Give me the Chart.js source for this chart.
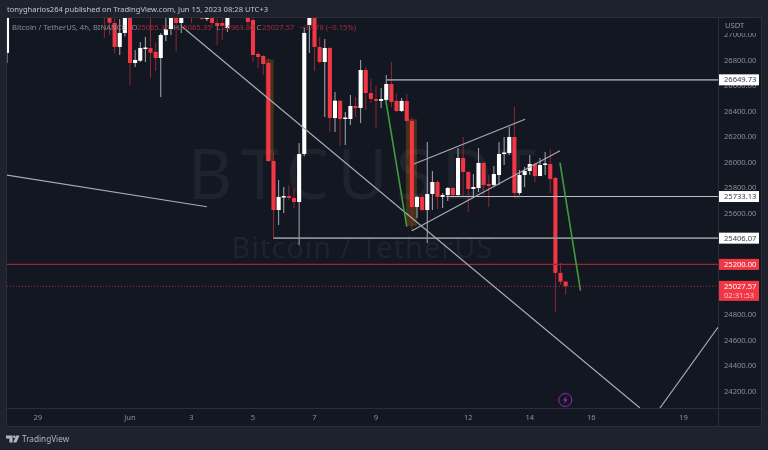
<!DOCTYPE html>
<html>
<head>
<meta charset="utf-8">
<title>BTCUSDT 4h</title>
<script src="https://cdn.jsdelivr.net/npm/chart.js@4/dist/chart.umd.min.js"></script>
<style>
  html, body { margin: 0; padding: 0; background: #1e222d; }
  canvas { display: block; }
</style>
</head>
<body>
<canvas id="chart" width="768" height="450"></canvas>
<script>
// candles, one row per 10 bars, null = bar sits above the visible range
const openPrices = [
  26861, null, null, null, null, null, null, null, null, null,
  null, null, null, null, null, null, null, null, null, 27200,
  27170, 27096, 26908, 27018, 27150, 26782, 26800, 26892, 26900, 26869,
  26821, 27002, 27049, 27160, 27096, null, 27210, null, 27150, 27128,
  27150, 27096, 27096, 27057, null, null, null, 27150, 27120, 26853,
  26837, 26782, 26012, 25627, 25725, 25737, 25722, 25690, 26067, 27081,
  27170, 26908, 26790, 26900, 26350, 26486, 26342, 26342, 26444, 26429,
  26727, 26546, 26499, 26484, 26492, 26617, 26484, 26405, 26484, 26327,
  25651, 25730, 25627, 25753, 25847, 25730, 25745, 25800, 25745, 26036,
  25926, 25792, 25800, 25997, 25832, 25824, 25902, 26067, 26075, 26201,
  25761, 25902, 25934, 25989, 25894, 25981, 25989, 25879, 25133, 25065.35
];
const highPrices = [
  27238, null, null, null, null, null, null, null, null, null,
  null, null, null, null, null, null, null, null, null, 27230,
  27230, 27180, 27128, 27190, 27190, 26884, 26947, 26986, 27140, 26947,
  27018, 27150, 27200, 27200, 27200, null, 27230, null, 27180, 27170,
  27190, 27130, 27150, 27190, null, null, null, 27190, 27170, 26869,
  26845, 26821, 26075, 25863, 25808, 25824, 25800, 26154, 27060, 27210,
  27220, 26986, 26971, 26910, 26554, 26490, 26397, 26531, 26515, 26806,
  26750, 26656, 26601, 26586, 26688, 26790, 26539, 26507, 26539, 26358,
  25737, 25745, 26162, 25934, 25863, 25761, 25808, 25808, 26114, 26201,
  25934, 25910, 26114, 26005, 25902, 25973, 26162, 26201, 26279, 26436,
  25942, 25965, 26059, 26005, 26036, 26083, 26107, 25890, 25211, 25065.35
];
const lowPrices = [
  26782, null, null, null, null, null, null, null, null, null,
  null, null, null, null, null, null, null, null, null, 26979,
  27002, 26861, 26845, 26990, 26609, 26751, 26790, 26790, 26664, 26719,
  26515, 26955, 27002, 26869, 27018, null, 27096, null, 27120, 27112,
  27057, 26924, 26963, 27026, null, null, null, 27081, 26790, 26743,
  26688, 26004, 25400, 25510, 25604, 25706, 25643, 25352, 26050, 26861,
  26719, 26780, 26358, 26240, 26240, 26130, 26138, 26295, 26358, 26311,
  26413, 26468, 26272, 26429, 26484, 26436, 26397, 26397, 26319, 25462,
  25565, 25620, 25368, 25627, 25635, 25643, 25698, 25722, 25737, 25730,
  25612, 25737, 25769, 25745, 25651, 25808, 25824, 25981, 26059, 25722,
  25745, 25808, 25902, 25847, 25894, 25902, 25761, 24826, 25038, 24963.80
];
const closePrices = [
  27238, null, null, null, null, null, null, null, null, null,
  null, null, null, null, null, null, null, null, null, 27160,
  27099, 26908, 27018, 27150, 26782, 26806, 26900, 26900, 26863, 26821,
  27002, 27049, 27160, 27096, 27160, null, 27170, null, 27128, 27150,
  27096, 27073, 27073, 27150, null, null, null, 27104, 26845, 26829,
  26774, 26012, 25627, 25730, 25737, 25722, 25690, 26067, 27018, 27170,
  26908, 26790, 26900, 26350, 26486, 26342, 26350, 26444, 26429, 26727,
  26546, 26499, 26484, 26499, 26617, 26476, 26405, 26484, 26327, 25651,
  25730, 25627, 25753, 25847, 25730, 25745, 25800, 25745, 26036, 25926,
  25792, 25808, 25997, 25824, 25816, 25910, 26067, 26078, 26201, 25761,
  25902, 25934, 25989, 25894, 25981, 25989, 25871, 25133, 25065, 25027.57
];

// axes
const timeTickBars = [6, 24, 36, 48, 60, 72, 90, 102, 114, 132];
const timeTickLabels = ['29', 'Jun', '3', '5', '7', '9', '12', '14', '16', '19'];
const priceTicks = [27000, 26800, 26600, 26400, 26200, 26000, 25800, 25600, 25400, 25200, 25000, 24800, 24600, 24400, 24200];

// horizontal levels with their boxes on the price axis
const levelPrices = [26649.73, 25733.13, 25406.07];
const levelStartBars = [74, 85.7, 52];
const alertPrice = 25200;
const lastPrice = 25027.57;

// drawings as [bar, price] pairs
const sideLine = [[0, 25902], [39, 25653]];
const fallLine = [[34, 27073], [123.5, 24072]];
const riseLine = [[127.4, 24072], [138.73, 24706]];
const channelTop = [[79.4, 25989], [101.1, 26340]];
const channelBottom = [[79, 25465], [107.9, 26093]];
const greenLeg1 = [[73.9, 26492], [78, 25496]];
const greenLeg2 = [[107.9, 25999], [111.9, 24994]];
const zoneOne = [[51.25, 26810], [51.25, 26012]];
const zoneTwo = [[78.9, 26341], [78.9, 25502]];

const BG = '#131722';
const PANEL = '#1e222d';
const LINE = '#2a2e39';
const RED = '#f23645';
const FONT = '"Noto Sans", sans-serif';
const X_MAX = 138.73;

const bodies = [];
const wicks = [];
closePrices.forEach((close, i) => {
  if (close === null) return;
  const up = close >= openPrices[i];
  bodies.push({ x: i, y: [openPrices[i], close], up: up });
  wicks.push({ x: i, y: [lowPrices[i], highPrices[i]], up: up });
});

function toPoints(pairs) {
  return pairs.map(p => ({ x: p[0], y: p[1] }));
}

function lineSet(pairs, color, width, order, dash) {
  return {
    type: 'line',
    data: toPoints(pairs),
    borderColor: color,
    borderWidth: width,
    borderDash: dash || [],
    borderCapStyle: 'butt',
    pointRadius: 0,
    tension: 0,
    order: order
  };
}

const datasets = [
  lineSet(zoneOne, 'rgba(255, 152, 0, 0.22)', 8, 9),
  lineSet(zoneTwo, 'rgba(255, 152, 0, 0.22)', 11, 9),
  {
    data: wicks,
    backgroundColor: c => c.raw && c.raw.up ? '#a9abb0' : '#8e2733',
    barPercentage: 1,
    maxBarThickness: 1,
    borderWidth: 0,
    order: 6
  },
  {
    data: bodies,
    backgroundColor: c => c.raw && c.raw.up ? '#ffffff' : RED,
    barPercentage: 1,
    maxBarThickness: 4.6,
    minBarLength: 1.5,
    borderWidth: 0,
    order: 5
  },
  lineSet(sideLine, '#a9abb2', 1.2, 3),
  lineSet(fallLine, '#a9abb2', 1.2, 3),
  lineSet(riseLine, '#a9abb2', 1.2, 3),
  lineSet(channelTop, '#a9abb2', 1.2, 3),
  lineSet(channelBottom, '#a9abb2', 1.2, 3),
  lineSet(greenLeg1, '#3f9c3f', 1.6, 2),
  lineSet(greenLeg2, '#3f9c3f', 1.6, 2),
  lineSet([[levelStartBars[0], levelPrices[0]], [X_MAX, levelPrices[0]]], '#8c8e94', 1.6, 3),
  lineSet([[levelStartBars[1], levelPrices[1]], [X_MAX, levelPrices[1]]], '#c2c3c7', 1, 3),
  lineSet([[levelStartBars[2], levelPrices[2]], [X_MAX, levelPrices[2]]], '#8c8e94', 1.6, 3),
  lineSet([[0, alertPrice], [X_MAX, alertPrice]], '#9c2633', 1.2, 4),
  lineSet([[0, lastPrice], [X_MAX, lastPrice]], '#a82a38', 1, 4, [1, 2])
];

const framePlugin = {
  id: 'frame',
  beforeDraw(chart) {
    const c = chart.ctx;
    c.save();
    c.fillStyle = PANEL;
    c.fillRect(0, 0, 768, 450);
    c.fillStyle = BG;
    c.fillRect(6, 17, 755, 410);
    c.strokeStyle = LINE;
    c.lineWidth = 1;
    c.strokeRect(6.5, 17.5, 755, 409);
    c.beginPath();
    c.moveTo(7, 408.5); c.lineTo(761, 408.5);
    c.moveTo(718.5, 18); c.lineTo(718.5, 427);
    c.stroke();

    c.fillStyle = '#c3c6cd';
    c.font = '7.6px ' + FONT;
    c.textBaseline = 'middle';
    c.fillText('tonygharios264 published on TradingView.com, Jun 15, 2023 08:28 UTC+3', 7, 9.5);
    c.restore();
  },
  beforeDatasetsDraw(chart) {
    const c = chart.ctx;
    c.save();
    c.fillStyle = '#1f232e';
    c.textAlign = 'center';
    c.textBaseline = 'middle';
    c.font = '69px ' + FONT;
    c.letterSpacing = '8px';
    c.fillText('BTCUSDT', 366, 179);
    c.font = '29px ' + FONT;
    c.letterSpacing = '1px';
    c.fillText('Bitcoin / TetherUS', 362.5, 250);
    c.restore();
  },
  afterDraw(chart) {
    const c = chart.ctx;
    const y = chart.scales.y;
    c.save();
    c.textBaseline = 'middle';

    // legend line over the candles
    c.font = '7.6px ' + FONT;
    c.fillStyle = '#8a8d96';
    c.fillText('Bitcoin / TetherUS, 4h, BINANCE', 12, 27.5);
    const legend = [['O', '25065.35', 131.5], ['H', '25065.35', 173.5], ['L', '24963.80', 216.5], ['C', '25027.57', 256.5]];
    legend.forEach(item => {
      c.fillStyle = '#8a8d96';
      c.fillText(item[0], item[2], 27.5);
      c.fillStyle = '#a52c3a';
      c.fillText(item[1], item[2] + 5.5, 27.5);
    });
    c.fillText('\u221237.78 (\u22120.15%)', 300, 27.5);

    // unit label hides the top half of the first tick
    c.fillStyle = BG;
    c.fillRect(719, 18, 42, 15);
    c.fillStyle = '#9598a1';
    c.fillText('USDT', 725, 26);

    // price boxes
    levelPrices.forEach(p => {
      const py = y.getPixelForValue(p);
      c.fillStyle = '#ffffff';
      c.fillRect(719, py - 5.5, 40, 11);
      c.fillStyle = '#3a3d47';
      c.fillText(p.toFixed(2), 724, py + 0.3);
    });
    const ay = y.getPixelForValue(alertPrice);
    c.fillStyle = RED;
    c.fillRect(719, ay - 5.5, 40, 11);
    c.fillStyle = '#ffffff';
    c.fillText(alertPrice.toFixed(2), 724, ay + 0.3);
    const ly = y.getPixelForValue(lastPrice);
    c.fillStyle = RED;
    c.fillRect(719, ly - 5.5, 40, 20);
    c.fillStyle = '#ffffff';
    c.fillText(lastPrice.toFixed(2), 724, ly + 0.3);
    c.fillStyle = '#fbc3c9';
    c.fillText('02:31:53', 724, ly + 9.3);

    // lightning badge
    c.strokeStyle = '#9c27b0';
    c.lineWidth = 1;
    c.beginPath();
    c.arc(565.3, 400, 6.5, 0, Math.PI * 2);
    c.stroke();
    c.fillStyle = '#9c27b0';
    c.beginPath();
    c.moveTo(566.5, 396); c.lineTo(563, 400.6); c.lineTo(565, 400.6);
    c.lineTo(564, 404); c.lineTo(567.6, 399.4); c.lineTo(565.6, 399.4);
    c.closePath();
    c.fill();

    // footer logo
    c.fillStyle = '#b2b5be';
    c.beginPath();
    c.moveTo(6, 435.5); c.lineTo(12.6, 435.5); c.lineTo(12.6, 442.5); c.lineTo(9.4, 442.5);
    c.lineTo(9.4, 438.5); c.lineTo(6, 438.5);
    c.closePath();
    c.fill();
    c.beginPath();
    c.arc(14.3, 436.8, 1.3, 0, Math.PI * 2);
    c.fill();
    c.beginPath();
    c.moveTo(16.2, 435.5); c.lineTo(19.5, 435.5); c.lineTo(16.4, 442.5); c.lineTo(13.2, 442.5);
    c.closePath();
    c.fill();
    c.font = '8.2px ' + FONT;
    c.fillText('TradingView', 22, 439.5);
    c.restore();
  }
};

new Chart(document.getElementById('chart'), {
  type: 'bar',
  data: { datasets: datasets },
  plugins: [framePlugin],
  options: {
    responsive: false,
    animation: false,
    devicePixelRatio: 1,
    layout: { padding: { left: 7, top: 18, right: 7, bottom: 23 } },
    datasets: { bar: { grouped: false } },
    plugins: {
      legend: { display: false },
      tooltip: { enabled: false },
      title: { display: false }
    },
    scales: {
      x: {
        type: 'linear',
        min: 0,
        max: X_MAX,
        offset: false,
        grid: { display: false, drawTicks: false },
        border: { display: false },
        afterBuildTicks: scale => {
          scale.ticks = timeTickBars.map(v => ({ value: v }));
        },
        afterFit: scale => { scale.height = 19; },
        ticks: {
          autoSkip: false,
          maxRotation: 0,
          padding: 5,
          color: '#8b8e97',
          font: { family: FONT, size: 7.6 },
          callback: value => timeTickLabels[timeTickBars.indexOf(value)]
        }
      },
      y: {
        position: 'right',
        min: 24072,
        max: 27135.4,
        grid: { display: false, drawTicks: false },
        border: { display: false },
        afterBuildTicks: scale => {
          scale.ticks = priceTicks.map(v => ({ value: v }));
        },
        afterFit: scale => { scale.width = 43; },
        ticks: {
          autoSkip: false,
          padding: 6,
          color: '#8b8e97',
          font: { family: FONT, size: 7.6 },
          callback: value => value.toFixed(2)
        }
      }
    }
  }
});
</script>
</body>
</html>
